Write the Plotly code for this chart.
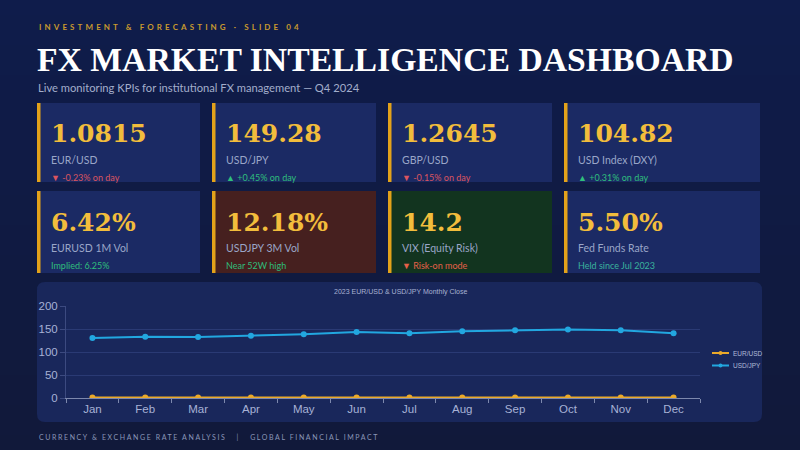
import plotly.graph_objects as go

# ---------------- data ----------------
months = ["Jan", "Feb", "Mar", "Apr", "May", "Jun", "Jul", "Aug", "Sep", "Oct", "Nov", "Dec"]
eurusd = [1.086, 1.058, 1.084, 1.102, 1.069, 1.091, 1.100, 1.084, 1.057, 1.058, 1.089, 1.104]
usdjpy = [130.5, 133.0, 132.8, 135.5, 138.5, 143.5, 140.5, 145.0, 147.5, 149.0, 147.5, 141.0]
series_names = ["EUR/USD", "USD/JPY"]

kpi_values = ["1.0815", "149.28", "1.2645", "104.82", "6.42%", "12.18%", "14.2", "5.50%"]
kpi_labels = ["EUR/USD", "USD/JPY", "GBP/USD", "USD Index (DXY)",
              "EURUSD 1M Vol", "USDJPY 3M Vol", "VIX (Equity Risk)", "Fed Funds Rate"]
kpi_notes = ["▼ -0.23% on day", "▲ +0.45% on day", "▼ -0.15% on day", "▲ +0.31% on day",
             "Implied: 6.25%", "Near 52W high", "▼ Risk-on mode", "Held since Jul 2023"]
kpi_tone = ["down", "up", "down", "up", "up", "up", "warn", "teal"]
kpi_card_tone = ["n", "n", "n", "n", "n", "red", "green", "n"]

y_ticks = [0, 50, 100, 150, 200]

# ---------------- styling ----------------
W, H = 800, 450
GOLD = "#f2bd3c"
BAR = "#e3a21a"
CARD = "#1b2a64"
CARD_RED = "#46201f"
CARD_GREEN = "#12341f"
PANEL = "#19275b"
LABEL = "#9aa6c8"
C_EUR = "#eaa92a"
C_JPY = "#22a7e0"
TONES = {"down": "#dc5560", "up": "#2fbf7c", "warn": "#e5604a", "teal": "#3ab39c"}
CARD_COLORS = {"n": CARD, "red": CARD_RED, "green": CARD_GREEN}


def px(x):
    return x / W


def py(y):
    return 1 - y / H


shapes = []
annotations = []

# background gradient bands
top = (15, 28, 75)
bot = (17, 25, 58)
n = 30
for i in range(n):
    t = i / (n - 1)
    c = tuple(round(top[k] + (bot[k] - top[k]) * t) for k in range(3))
    shapes.append(dict(type="rect", xref="paper", yref="paper", layer="below",
                       x0=0, x1=1, y0=py(H * (i + 1) / n) - 0.002, y1=py(H * i / n),
                       line=dict(width=0), fillcolor="rgb(%d,%d,%d)" % c))

# KPI cards
col_x = [37, 212, 388, 564]
col_w = [163, 164, 164, 196]
row_y = [(103, 182), (191, 273)]
for i in range(8):
    r, c = divmod(i, 4)
    x0 = col_x[c]
    x1 = x0 + col_w[c]
    y0, y1 = row_y[r]
    shapes.append(dict(type="rect", xref="paper", yref="paper", layer="below",
                       x0=px(x0), x1=px(x1), y0=py(y1), y1=py(y0),
                       line=dict(width=0), fillcolor=CARD_COLORS[kpi_card_tone[i]]))
    shapes.append(dict(type="rect", xref="paper", yref="paper", layer="below",
                       x0=px(x0), x1=px(x0 + 3.5), y0=py(y1), y1=py(y0),
                       line=dict(width=0), fillcolor=BAR))
    tx = px(x0 + 12)
    annotations.append(dict(xref="paper", yref="paper", x=tx, y=py(y0 + 31), xanchor="left",
                            yanchor="middle", showarrow=False, text="<b>%s</b>" % kpi_values[i],
                            font=dict(family="DejaVu Serif", size=25, color=GOLD)))
    annotations.append(dict(xref="paper", yref="paper", x=tx, y=py(y0 + 57), xanchor="left",
                            yanchor="middle", showarrow=False, text=kpi_labels[i],
                            font=dict(family="Lato", size=10.5, color=LABEL)))
    annotations.append(dict(xref="paper", yref="paper", x=tx, y=py(y0 + 74), xanchor="left",
                            yanchor="middle", showarrow=False, text=kpi_notes[i],
                            font=dict(family="Lato", size=9, color=TONES[kpi_tone[i]])))

# chart panel (rounded)
x0, x1, y0, y1, rr = px(37), px(762), py(422), py(282), 8
rx, ry = rr / W, rr / H
path = ("M {a},{b} L {c},{b} Q {x1},{b} {x1},{d} L {x1},{e} Q {x1},{y1} {c},{y1} "
        "L {a},{y1} Q {x0},{y1} {x0},{e} L {x0},{d} Q {x0},{b} {a},{b} Z").format(
    a=x0 + rx, b=y0, c=x1 - rx, d=y0 + ry, e=y1 - ry, x0=x0, x1=x1, y1=y1)
shapes.append(dict(type="path", xref="paper", yref="paper", layer="below", path=path,
                   line=dict(width=0), fillcolor=PANEL))

# custom compact legend
for name, col, ly in zip(series_names, [C_EUR, C_JPY], [353, 365.5]):
    shapes.append(dict(type="line", xref="paper", yref="paper", x0=px(712), x1=px(729),
                       y0=py(ly), y1=py(ly), line=dict(color=col, width=2)))
    shapes.append(dict(type="circle", xref="paper", yref="paper", x0=px(718.5), x1=px(722.5),
                       y0=py(ly + 2), y1=py(ly - 2), line=dict(width=0), fillcolor=col))
    annotations.append(dict(xref="paper", yref="paper", x=px(731), y=py(ly), xanchor="left",
                            yanchor="middle", showarrow=False, text=name,
                            font=dict(family="Liberation Sans", size=6.5, color="#b0bad8")))

# header texts
annotations.append(dict(xref="paper", yref="paper", x=px(37), y=py(27), xanchor="left",
                        yanchor="middle", showarrow=False,
                        text='<b><span style="letter-spacing:3.1px">INVESTMENT &amp; FORECASTING · SLIDE 04</span></b>',
                        font=dict(family="Lato", size=8, color="#c99a2e")))
annotations.append(dict(xref="paper", yref="paper", x=px(35), y=py(59), xanchor="left",
                        yanchor="middle", showarrow=False,
                        text="<b>FX MARKET INTELLIGENCE DASHBOARD</b>",
                        font=dict(family="Liberation Serif", size=33.7, color="#ffffff")))
annotations.append(dict(xref="paper", yref="paper", x=px(36), y=py(87), xanchor="left",
                        yanchor="middle", showarrow=False,
                        text="Live monitoring KPIs for institutional FX management — Q4 2024",
                        font=dict(family="Lato", size=11.2, color="#a3aecb")))
annotations.append(dict(xref="paper", yref="paper", x=px(37), y=py(437), xanchor="left",
                        yanchor="middle", showarrow=False,
                        text='<span style="letter-spacing:1.6px">CURRENCY &amp; EXCHANGE RATE ANALYSIS&nbsp;&nbsp;&nbsp;|&nbsp;&nbsp;&nbsp;GLOBAL FINANCIAL IMPACT</span>',
                        font=dict(family="Lato", size=7, color="#8a96b8")))
annotations.append(dict(xref="paper", yref="paper", x=px(400), y=py(292), xanchor="center",
                        yanchor="middle", showarrow=False,
                        text="2023 EUR/USD &amp; USD/JPY Monthly Close",
                        font=dict(family="Liberation Sans", size=7, color="#a8b2d2")))

fig = go.Figure()
fig.add_trace(go.Scatter(x=months, y=eurusd, name=series_names[0], mode="lines+markers",
                         line=dict(color=C_EUR, width=2), marker=dict(size=6, color=C_EUR)))
fig.add_trace(go.Scatter(x=months, y=usdjpy, name=series_names[1], mode="lines+markers",
                         line=dict(color=C_JPY, width=2), marker=dict(size=6, color=C_JPY)))

fig.update_layout(
    width=W, height=H, margin=dict(l=0, r=0, t=0, b=0, pad=0, autoexpand=False),
    paper_bgcolor="#0f1b48", plot_bgcolor="rgba(0,0,0,0)",
    shapes=shapes, annotations=annotations,
    showlegend=False,
    xaxis=dict(domain=[px(66), px(700)], type="category", range=[-0.5, 11.5],
               automargin=False,
               showline=True, linecolor="#7d88ad", linewidth=1,
               ticks="outside", tickson="boundaries", ticklen=4, tickcolor="#7d88ad",
               showgrid=False, zeroline=False,
               tickfont=dict(family="Liberation Sans", size=11.5, color="#a7b2d6")),
    yaxis=dict(domain=[py(398), py(306)], range=[0, 200], tickvals=y_ticks,
               automargin=False,
               showline=True, linecolor="#3c4a80", linewidth=1,
               ticks="outside", ticklen=5, tickcolor="#3c4a80",
               showgrid=True, gridcolor="#2a3a74", gridwidth=1, zeroline=False,
               tickfont=dict(family="Liberation Sans", size=11.5, color="#a7b2d6")),
)

post = (
    "document.documentElement.style.cssText='margin:0;padding:0;overflow:hidden;width:800px;height:450px;';"
    "document.body.style.cssText='margin:0;padding:0;overflow:hidden;width:800px;height:450px;position:relative;';"
    "var d=document.getElementById('{plot_id}');"
    "d.style.position='absolute';d.style.left='0px';d.style.top='0px';"
)
fig.write_html("out.html", config={"displayModeBar": False}, post_script=post)
